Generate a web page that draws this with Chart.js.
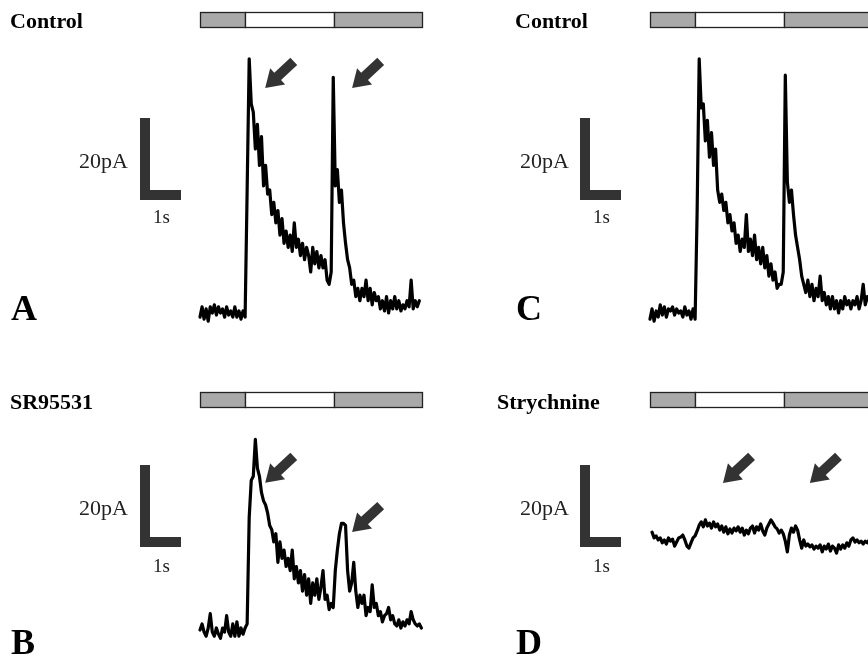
<!DOCTYPE html>
<html>
<head>
<meta charset="utf-8">
<script src="https://cdn.jsdelivr.net/npm/chart.js@4.4.0/dist/chart.umd.min.js"></script>
<style>
html, body { margin: 0; padding: 0; overflow: hidden; background: #fff; width: 868px; height: 657px; }
canvas { position: absolute; }
.t { position: absolute; font-family: 'Liberation Serif', 'Times New Roman', serif; line-height: 1; white-space: nowrap; color: #000; }
.title { font-weight: bold; font-size: 22px; }
.letter { font-weight: bold; font-size: 36px; }
.cal { font-size: 22px; color: #222; }
.sec { font-size: 19px; color: #222; }
</style>
</head>
<body>
<canvas id="chA" width="440" height="345" style="left:0;top:0"></canvas>
<canvas id="chC" width="428" height="345" style="left:440px;top:0"></canvas>
<canvas id="chB" width="440" height="312" style="left:0;top:345px"></canvas>
<canvas id="chD" width="428" height="312" style="left:440px;top:345px"></canvas>

<div class="t title" style="left:10px;top:10px">Control</div>
<div class="t title" style="left:515px;top:10px">Control</div>
<div class="t title" style="left:10px;top:391px">SR95531</div>
<div class="t title" style="left:497px;top:391px">Strychnine</div>

<div class="t cal" style="left:79px;top:150px">20pA</div>
<div class="t cal" style="left:520px;top:150px">20pA</div>
<div class="t cal" style="left:79px;top:497px">20pA</div>
<div class="t cal" style="left:520px;top:497px">20pA</div>
<div class="t sec" style="left:153px;top:207px">1s</div>
<div class="t sec" style="left:593px;top:207px">1s</div>
<div class="t sec" style="left:153px;top:556px">1s</div>
<div class="t sec" style="left:593px;top:556px">1s</div>

<div class="t letter" style="left:11px;top:290px">A</div>
<div class="t letter" style="left:11px;top:624px">B</div>
<div class="t letter" style="left:516px;top:290px">C</div>
<div class="t letter" style="left:516px;top:624px">D</div>

<script>
// sampling step of the traces (s)
const DT = 0.05;

// current traces, pA above baseline, one value per DT
const traceA = [-1, 1.5, -1.5, 1, -2, 1.5, 0, 2, -0.5, 1.5, 0, 1, -1, 1.5, -0.5, 0.5, -1, 1.5, -1, 0.5, -1.5, 0.5, -1,
  30, 62, 51, 49, 40, 46, 36, 43, 31, 36, 29, 30, 24, 27, 22, 25, 19, 23, 17, 20, 16, 19, 15, 22, 16, 18, 14, 17, 13, 16, 14, 10, 16, 12, 15, 11,
  14, 11, 13, 8, 7, 10, 57.5, 31, 35, 27, 30, 22, 17, 13, 11, 7, 8, 4, 6, 3, 6, 4, 8, 3, 6, 2, 5, 3, 4, 1, 3, 0.5, 4, 0, 3, 1, 4, 1, 3, 0.5, 2, 1, 3, 1.5, 8, 1, 3, 1.5, 3];

const traceC = [-1.5, 1, -2, 0.5, -1, 2, -0.5, 1.5, -1, 1, 0.5, 1.5, -0.5, 1, 0, 0.5, -1, 1.5, -0.5, 0.5, -1.5, 1, -1.5,
  25, 62, 50, 51, 42, 47, 38, 44, 36, 40, 30, 27, 29, 25, 27, 22, 24, 20, 22, 17, 19, 15, 18, 16, 24, 15, 18, 14, 19, 13, 16, 12, 16, 11, 14, 9,
  12, 8, 10, 6, 7, 7, 10, 58, 32, 27, 30, 24, 19, 16, 13, 9, 7, 5, 8, 4, 7, 3, 6, 4, 9, 3, 5, 2, 4, 1, 4, 1, 3, 0, 3, 1, 4, 2, 3, 1, 3, 2, 4, 1, 3, 7, 2, 4, 3, 2];

const traceB = [-0.5, 1, -1, -2, 0, 3.5, -1, -2, 0, -1.5, -2.5, 0, -1, 3, -1, -2, 1, -2, 1.5, -2, 0, -1.5, 0,
  1, 27, 36, 37, 46, 39, 37, 33, 31, 30, 28, 25, 24, 21, 23, 16, 21, 17, 19, 15, 17, 14, 19, 12, 15, 11, 14, 9, 13, 8, 12, 6, 11, 8, 12, 7, 10,
  14, 7, 8, 4.5, 6, 5, 14, 19, 23, 25.5, 25.5, 25, 14, 9, 11, 16, 9, 5, 8, 6, 8, 3, 5, 4, 10.5, 5, 6, 3, 4, 1.5, 3, 3.5, 5, 2, 3, 1, 0.5, 2, 0, 1.5, 0.5, 2, 1, 4, 2, 1, 0.5, 1, 0];

const traceD = [null, 2.4, 1, 1.5, 0.5, 1, -0.2, 0.5, -0.5, 1, 0.2, 0.7, -1, 0, 1, 1.2, 1.7, 0.5, -1, -1.5, -0.2, 1, 1.5,
  2.7, 4.1, 4.9, 3.7, 5.4, 3.9, 4.6, 3.4, 4.9, 3.7, 4.4, 2.9, 3.9, 2.4, 3.7, 2, 3.2, 2.2, 3.4, 2.7, 3.7, 2.4, 3.4, 1.7, 2.9, 2, 3.4, 3.9, 2.2, 3.7, 2.9, 4.4,
  2.7, 1.7, 3.4, 4.4, 5.4, 4.6, 3.7, 3.2, 2.2, 2.9, 2, 0.2, -2.4, 1.7, 3.4, 2.4, 3.9, 2.9, 0.5, -1.5, 0.5, -1, -0.5, -1.2, -0.7, -1.7, -1, -1.5, -0.7, -2.4, -1, -1.7, -0.5, -2.2, -1,
  -1.5, -2.7, -0.7, -1.7, -0.7, -1.5, -0.2, -1, 0.5, 1, 0, 0.5, -0.2, 0.2, -0.5, 0.2, -0.2, 0.5, 0];

// stimulus protocol (s): off / on / off
const stimEdges = [0, 1.1, 3.27, 5.42];
const stimFill = ['#a9a9a9', '#ffffff', '#a9a9a9'];

// calibration bar
const SCALE_PA = 20;
const SCALE_S = 1;

// arrow tips [s, pA]
const arrowsA = [[1.59, 54.9], [3.71, 54.9]];
const arrowsB = [[1.59, 35.4], [3.71, 23.4]];
const arrowsD = [[1.78, 14.4], [3.90, 14.4]];

const PX_PER_S = 41;
const PX_PER_PA = 4.1;

function drawArrow(ctx, tx, ty) {
  const ux = -0.733, uy = 0.68, nx = -uy, ny = ux;
  const bx = tx - ux * 17, by = ty - uy * 17;
  const ex = tx - ux * 39, ey = ty - uy * 39;
  ctx.beginPath();
  ctx.moveTo(tx, ty);
  ctx.lineTo(bx + nx * 11, by + ny * 11);
  ctx.lineTo(bx + nx * 5, by + ny * 5);
  ctx.lineTo(ex + nx * 5, ey + ny * 5);
  ctx.lineTo(ex - nx * 5, ey - ny * 5);
  ctx.lineTo(bx - nx * 5, by - ny * 5);
  ctx.lineTo(bx - nx * 11, by - ny * 11);
  ctx.closePath();
  ctx.fill();
}

const figPlugin = {
  id: 'fig',
  afterDraw(chart, args, o) {
    const { ctx } = chart;
    const x = chart.scales.x, y = chart.scales.y;
    ctx.save();
    // stimulus bar
    for (let k = 0; k < 3; k++) {
      const x1 = Math.round(x.getPixelForValue(stimEdges[k])) + 0.5;
      const x2 = Math.round(x.getPixelForValue(stimEdges[k + 1])) + 0.5;
      ctx.fillStyle = stimFill[k];
      ctx.fillRect(x1, o.stimY, x2 - x1, 15);
      ctx.strokeStyle = '#222';
      ctx.lineWidth = 1.3;
      ctx.strokeRect(x1, o.stimY, x2 - x1, 15);
    }
    // calibration bar
    const h = y.getPixelForValue(0) - y.getPixelForValue(SCALE_PA);
    const w = x.getPixelForValue(SCALE_S) - x.getPixelForValue(0);
    ctx.fillStyle = '#333';
    ctx.fillRect(o.barX, o.barBottom - h, 10, h);
    ctx.fillRect(o.barX, o.barBottom - 10, w, 10);
    // arrows
    ctx.fillStyle = '#333';
    (o.arrows || []).forEach(a => drawArrow(ctx, x.getPixelForValue(a[0]), y.getPixelForValue(a[1])));
    ctx.restore();
  }
};

function makePanel(id, box, area, x0, y0, values, arrows) {
  new Chart(document.getElementById(id), {
    type: 'line',
    data: {
      datasets: [{
        data: values.map((v, i) => ({ x: i * DT, y: v })),
        borderColor: '#000',
        borderWidth: 3.2,
        borderJoinStyle: 'round',
        borderCapStyle: 'round',
        pointRadius: 0,
        tension: 0,
        spanGaps: false
      }]
    },
    options: {
      responsive: false,
      animation: false,
      devicePixelRatio: 1,
      layout: { padding: { left: area.l - box.l, top: area.t - box.t, right: box.l + box.w - area.r, bottom: box.t + box.h - area.b } },
      scales: {
        x: { type: 'linear', display: false, min: (area.l - x0) / PX_PER_S, max: (area.r - x0) / PX_PER_S },
        y: { type: 'linear', display: false, min: (y0 - area.b) / PX_PER_PA, max: (y0 - area.t) / PX_PER_PA }
      },
      plugins: {
        legend: { display: false },
        tooltip: { enabled: false },
        fig: { stimY: box.stimY, barX: box.barX, barBottom: box.barBottom, arrows: arrows }
      }
    },
    plugins: [figPlugin]
  });
}

makePanel('chA', { l: 0, t: 0, w: 440, h: 345, stimY: 12.5, barX: 140, barBottom: 200 },
  { l: 195, t: 0, r: 430, b: 345 }, 200, 313, traceA, arrowsA);
makePanel('chC', { l: 440, t: 0, w: 428, h: 345, stimY: 12.5, barX: 140, barBottom: 200 },
  { l: 645, t: 0, r: 868, b: 345 }, 650, 313, traceC, []);
makePanel('chB', { l: 0, t: 345, w: 440, h: 312, stimY: 47.5, barX: 140, barBottom: 202 },
  { l: 195, t: 345, r: 430, b: 657 }, 200, 628, traceB, arrowsB);
makePanel('chD', { l: 440, t: 345, w: 428, h: 312, stimY: 47.5, barX: 140, barBottom: 202 },
  { l: 645, t: 345, r: 868, b: 657 }, 650, 542, traceD, arrowsD);
</script>
</body>
</html>
